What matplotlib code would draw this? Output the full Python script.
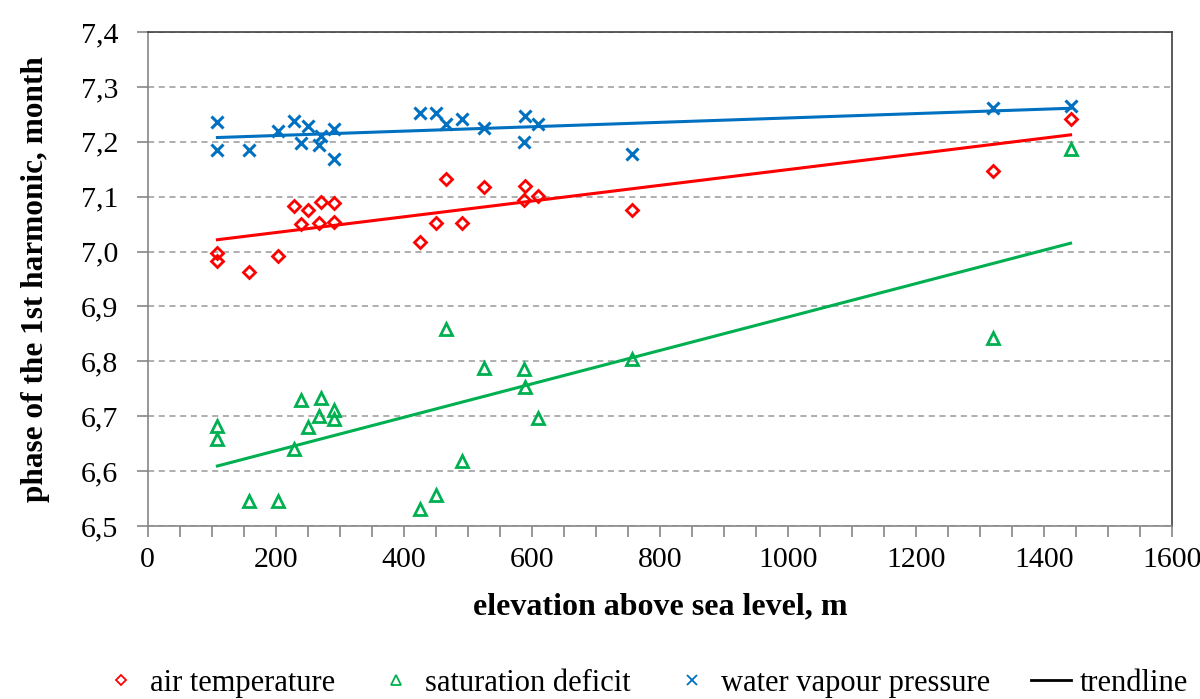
import numpy as np
import matplotlib.pyplot as plt
from matplotlib.lines import Line2D
from matplotlib.ticker import MultipleLocator, FuncFormatter

# elevation of the stations, m
elevation = [109, 109, 159, 203, 228, 239, 251, 267, 270, 291, 291,
             425, 451, 466, 491, 525, 587, 589, 609, 756, 1320, 1441]

# phase of the 1st harmonic, month
air_temp = [6.997, 6.982, 6.962, 6.992, 7.083, 7.050, 7.076, 7.052, 7.090, 7.089, 7.054,
            7.017, 7.052, 7.133, 7.052, 7.117, 7.094, 7.119, 7.101, 7.076, 7.147, 7.241]
sat_deficit = [6.683, 6.659, 6.545, 6.546, 6.640, 6.730, 6.680, 6.701, 6.733, 6.711, 6.695,
               6.531, 6.557, 6.859, 6.619, 6.787, 6.786, 6.753, 6.696, 6.804, 6.843, 7.187]
vapour = [7.236, 7.185, 7.185, 7.220, 7.238, 7.197, 7.229, 7.195, 7.211, 7.223, 7.169,
          7.253, 7.253, 7.232, 7.242, 7.225, 7.200, 7.247, 7.233, 7.178, 7.262, 7.265]

RED = '#FF0000'
GREEN = '#00B050'
BLUE = '#0070C0'

plt.rcParams['font.family'] = ['Liberation Serif', 'DejaVu Serif']

fig = plt.figure(figsize=(12, 6.99), dpi=100)
ax = fig.add_axes([0.123, 0.2475, 0.854, 0.7067])

x = np.array(elevation)
xs = np.array([x.min(), x.max()])

# linear trendlines
for vals, col in [(air_temp, RED), (sat_deficit, GREEN), (vapour, BLUE)]:
    k, b = np.polyfit(x, vals, 1)
    ax.plot(xs, k * xs + b, color=col, lw=2.2, zorder=2)

ax.plot(x, air_temp, ls='none', marker='D', ms=6.5, mfc='none', mec=RED, mew=2, zorder=3)
ax.plot(x, sat_deficit, ls='none', marker='^', ms=9, mfc='none', mec=GREEN, mew=2, zorder=3)
ax.plot(x, vapour, ls='none', marker='x', ms=9, mec=BLUE, mew=2.2, zorder=3)

ax.set_xlim(0, 1600)
ax.set_ylim(6.5, 7.4)
ax.xaxis.set_major_locator(MultipleLocator(200))
ax.xaxis.set_minor_locator(MultipleLocator(50))
ax.yaxis.set_major_locator(MultipleLocator(0.1))
ax.yaxis.set_major_formatter(FuncFormatter(lambda v, p: f'{v:.1f}'.replace('.', ',')))

ax.grid(axis='y', color='#999999', ls=(0, (4, 3)), lw=1.1)
ax.set_axisbelow(True)

for s in ['left', 'bottom']:
    ax.spines[s].set_color('#868686')
    ax.spines[s].set_linewidth(1.2)
for s in ['top', 'right']:
    ax.spines[s].set_color('#404040')
    ax.spines[s].set_linewidth(1.2)

ax.tick_params(axis='both', which='both', direction='out', color='#868686', width=1.2)
ax.tick_params(axis='x', which='both', length=8)
ax.tick_params(axis='x', which='major', labelsize=21.5, pad=7)
ax.tick_params(axis='y', length=8, labelsize=21.5, pad=13)

ax.set_xlabel('elevation above sea level, m', fontsize=23, fontweight='bold', labelpad=14)
ax.set_ylabel('phase of the 1st harmonic, month', fontsize=22.5, fontweight='bold', labelpad=22)

handles = [
    Line2D([], [], ls='none', marker='D', ms=5, mfc='none', mec=RED, mew=1.3),
    Line2D([], [], ls='none', marker='^', ms=6.5, mfc='none', mec=GREEN, mew=1.3),
    Line2D([], [], ls='none', marker='x', ms=6.5, mec=BLUE, mew=1.3),
    Line2D([], [], color='black', lw=2),
]
labels = ['air temperature', 'saturation deficit', 'water vapour pressure', 'trendline']
fig.legend(handles, labels, loc='center', bbox_to_anchor=(0.537, 0.022), ncol=4,
           frameon=False, fontsize=22, handlelength=1.3, handletextpad=0.3,
           columnspacing=1.35)

fig.savefig('out.png', dpi=100)
